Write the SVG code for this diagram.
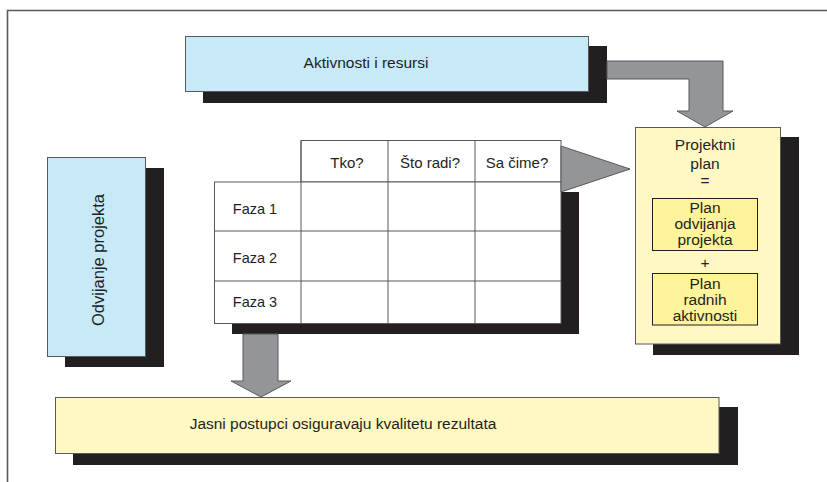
<svg xmlns="http://www.w3.org/2000/svg" width="827" height="482" viewBox="0 0 827 482">
<style>
text{font-family:"Liberation Sans",Arial,sans-serif;fill:#231f20;dominant-baseline:central;text-anchor:middle}
.sh{fill:#231f20}
.blue{fill:#c7e9f8;stroke:#58595b;stroke-width:1}
.yel{fill:#fff8c2;stroke:#58595b;stroke-width:1}
.yel2{fill:#fff39b;stroke:#231f20;stroke-width:1}
.cell{fill:#fff;stroke:#58595b;stroke-width:1}
.arr{fill:#939598;stroke:#58595b;stroke-width:1;stroke-linejoin:miter}
.t14{font-size:14.5px}
.th{font-size:15px}
.t15{font-size:15.5px}
.big{font-size:15.5px}
</style>
<rect width="827" height="482" fill="#fff"/>
<path d="M7.5 482 V10.5 H827" fill="none" stroke="#58595b" stroke-width="1.6"/>

<g id="aktivnosti">
<rect class="sh" x="203" y="46" width="404" height="57"/>
<rect class="blue" x="185.5" y="36.5" width="403" height="55"/>
<text class="big" x="366" y="62">Aktivnosti i resursi</text>
</g>

<g id="odvijanje">
<rect class="sh" x="65" y="168" width="99" height="199"/>
<rect class="blue" x="47.5" y="157.5" width="98" height="199"/>
<text style="font-size:16.5px" transform="translate(98 260) rotate(-90)">Odvijanje projekta</text>
</g>

<g id="tablica">
<rect class="sh" x="232" y="192" width="347" height="142"/>
<rect class="cell" x="301" y="140.5" width="260" height="41.5"/>
<rect class="cell" x="214.5" y="182" width="346.5" height="141.5"/>
<path d="M301 140.5V323.5M388 140.5V323.5M475 140.5V323.5M214.5 231H561M214.5 281H561" stroke="#58595b" stroke-width="1" fill="none"/>
<text class="th" x="347" y="162">Tko?</text>
<text class="th" x="430" y="162">Što radi?</text>
<text class="th" x="517" y="162">Sa čime?</text>
<text class="t14" x="255" y="209">Faza 1</text>
<text class="t14" x="255" y="258">Faza 2</text>
<text class="t14" x="255" y="302">Faza 3</text>
</g>

<g id="projektni-plan">
<rect class="sh" x="653" y="137" width="146" height="218"/>
<rect class="yel" x="635.5" y="127.5" width="145" height="216.5"/>
<text class="t15" x="705" y="144">Projektni</text>
<text class="t15" x="705" y="163">plan</text>
<text class="t15" x="705" y="180">=</text>
<rect class="yel2" x="652.5" y="198.5" width="105" height="52"/>
<text class="t15" x="705" y="207">Plan</text>
<text class="t15" x="705" y="223">odvijanja</text>
<text class="t15" x="705" y="239">projekta</text>
<text class="t15" x="705" y="262">+</text>
<rect class="yel2" x="652.5" y="273.5" width="105" height="51.5"/>
<text class="t15" x="705" y="283">Plan</text>
<text class="t15" x="705" y="299">radnih</text>
<text class="t15" x="705" y="315">aktivnosti</text>
</g>

<g id="rezultat">
<rect class="sh" x="73" y="407" width="665" height="58"/>
<rect class="yel" x="55.5" y="397.5" width="663.5" height="56"/>
<text class="big" x="343" y="423">Jasni postupci osiguravaju kvalitetu rezultata</text>
</g>

<g id="connectors">
<polygon class="arr" points="607,61 723,61 723,111 733,111 705,127 677,111 689,111 689,79 607,79"/>
<polygon class="arr" points="561,146 630,169 561,192"/>
<polygon class="arr" points="243,334 278,334 278,381 291,381 261,397 231,381 243,381"/>
</g>
</svg>
